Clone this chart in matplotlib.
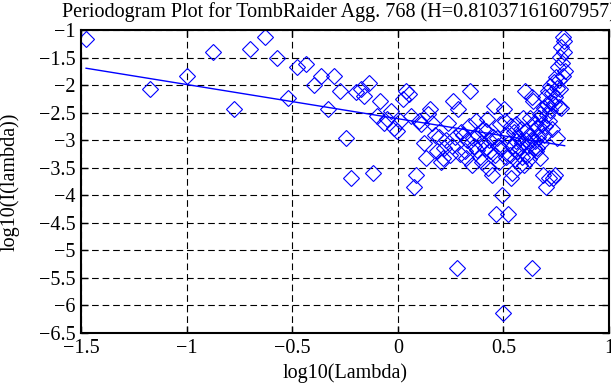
import numpy as np
import matplotlib
matplotlib.use("Agg")
import matplotlib.pyplot as plt

plt.rcParams['font.family'] = ['Liberation Serif', 'DejaVu Serif']

title = "Periodogram Plot for TombRaider Agg. 768 (H=0.81037161607957)"
xlabel = "log10(Lambda)"
ylabel = "log10(I(lambda))"

H = 0.81037161607957
fit_intercept = -2.61

log_lambda = [
    -1.476, -1.175, -1.000, -0.874, -0.777, -0.698, -0.631, -0.573, -0.522, -0.476,
    -0.435, -0.397, -0.362, -0.330, -0.300, -0.272, -0.246, -0.221, -0.197, -0.175,
    -0.158, -0.138, -0.118, -0.100, -0.082, -0.065, -0.049, -0.033, -0.018, -0.003,
    0.011, 0.025, 0.039, 0.051, 0.064, 0.076, 0.088, 0.100, 0.111, 0.122,
    0.133, 0.143, 0.154, 0.164, 0.174, 0.184, 0.193, 0.203, 0.212, 0.221,
    0.230, 0.238, 0.247, 0.255, 0.263, 0.271, 0.279, 0.286, 0.294, 0.301,
    0.309, 0.316, 0.323, 0.330, 0.337, 0.343, 0.350, 0.356, 0.363, 0.369,
    0.375, 0.381, 0.387, 0.393, 0.399, 0.405, 0.411, 0.416, 0.422, 0.428,
    0.433, 0.438, 0.444, 0.449, 0.454, 0.459, 0.464, 0.469, 0.474, 0.479,
    0.484, 0.489, 0.494, 0.498, 0.503, 0.507, 0.512, 0.516, 0.521, 0.525,
    0.530, 0.534, 0.538, 0.542, 0.546, 0.550, 0.554, 0.558, 0.562, 0.566,
    0.570, 0.574, 0.578, 0.582, 0.586, 0.590, 0.594, 0.598, 0.601, 0.605,
    0.609, 0.612, 0.616, 0.620, 0.623, 0.627, 0.630, 0.634, 0.637, 0.641,
    0.644, 0.648, 0.651, 0.654, 0.658, 0.661, 0.664, 0.668, 0.671, 0.674,
    0.677, 0.680, 0.683, 0.687, 0.690, 0.693, 0.696, 0.699, 0.702, 0.705,
    0.708, 0.711, 0.714, 0.717, 0.720, 0.723, 0.726, 0.729, 0.732, 0.735,
    0.738, 0.741, 0.744, 0.746, 0.749, 0.752, 0.755, 0.758, 0.761, 0.763,
    0.766, 0.769, 0.772, 0.774, 0.777, 0.780, 0.782, 0.785, 0.788, 0.790,
]

log_I = [
    -1.17, -2.07, -1.83, -1.40, -2.44, -1.34, -1.12, -1.51, -2.24, -1.67,
    -1.61, -1.99, -1.84, -2.43, -1.84, -2.10, -2.96, -3.69, -2.13, -2.07,
    -2.19, -1.97, -3.60, -2.56, -2.28, -2.68, -2.62, -2.47, -2.78, -2.84,
    -2.65, -2.25, -2.10, -2.16, -2.56, -3.85, -3.63, -2.65, -2.71, -3.05,
    -3.33, -2.53, -2.44, -2.68, -2.90, -3.20, -2.95, -3.40, -3.33, -3.14,
    -3.00, -2.68, -3.26, -3.11, -2.28, -2.95, -5.32, -2.44, -3.25, -2.85,
    -2.90, -3.20, -3.33, -3.00, -2.75, -2.10, -3.45, -2.96, -3.10, -2.65,
    -3.17, -2.90, -3.30, -3.05, -3.39, -2.80, -3.15, -2.84, -2.62, -3.50,
    -3.00, -3.20, -3.63, -2.95, -2.38, -3.26, -4.34, -2.96, -3.10, -3.40,
    -2.70, -3.15, -4.00, -6.13, -2.44, -2.65, -3.30, -2.90, -4.34, -3.05,
    -3.26, -3.69, -2.75, -3.60, -3.10, -2.85, -3.35, -2.71, -3.02, -3.20,
    -2.95, -3.14, -3.45, -2.80, -3.05, -3.30, -2.60, -3.45, -2.10, -3.00,
    -2.84, -3.26, -3.10, -2.90, -3.35, -2.59, -3.00, -2.22, -5.32, -2.28,
    -3.15, -3.02, -2.70, -3.20, -2.78, -3.14, -2.95, -2.60, -3.33, -2.53,
    -2.85, -3.05, -2.70, -3.63, -2.41, -2.90, -2.22, -2.75, -3.85, -2.55,
    -2.35, -2.10, -2.65, -3.69, -2.45, -2.01, -2.30, -2.80, -2.15, -3.69,
    -2.35, -1.95, -3.63, -2.22, -1.86, -2.96, -2.05, -1.67, -2.40, -1.90,
    -1.49, -2.07, -1.31, -2.41, -1.60, -1.12, -1.83, -1.20, -1.40, -1.75,
]

x = np.array(log_lambda)
y = np.array(log_I)
slope = 1 - 2 * H

fig = plt.figure(figsize=(6.11, 3.85), dpi=100)
ax = fig.add_axes([81/611, 1 - 333/385, (609-81)/611, (333-30)/385])

ax.plot(x, y, linestyle='none', marker='D', markersize=8, markerfacecolor='none',
        markeredgecolor='blue', markeredgewidth=0.8)
xf = np.array([x.min(), x.max()])
ax.plot(xf, fit_intercept + slope * xf, color='blue', linewidth=1.0)

ax.set_xlim(-1.5, 1.0)
ax.set_ylim(-6.5, -1.0)
ax.set_xticks([-1.5, -1, -0.5, 0, 0.5, 1])
ax.set_xticklabels(['\u22121.5', '\u22121', '\u22120.5', '0', '0.5', '1'])
ax.set_yticks(np.arange(-6.5, -0.99, 0.5))
ax.set_yticklabels(['\u22126.5', '\u22126', '\u22125.5', '\u22125', '\u22124.5', '\u22124',
                    '\u22123.5', '\u22123', '\u22122.5', '\u22122', '\u22121.5', '\u22121'])
ax.grid(True, color='black', linestyle=(0, (6, 3.5)), linewidth=0.8)
ax.tick_params(direction='in', length=5, width=1.0, top=True, right=True,
               labelsize=14.5, colors='black', pad=4)
for s in ax.spines.values():
    s.set_linewidth(1.5)
ax.set_xlabel(xlabel, fontsize=14.5, labelpad=4)
ax.set_ylabel(ylabel, fontsize=14.5)
ax.yaxis.set_label_coords(-61/528, 0.5)
fig.text(62/611, 1 - 12/385, title, fontsize=14.5, ha='left', va='center')

fig.savefig('out.png', dpi=100)
